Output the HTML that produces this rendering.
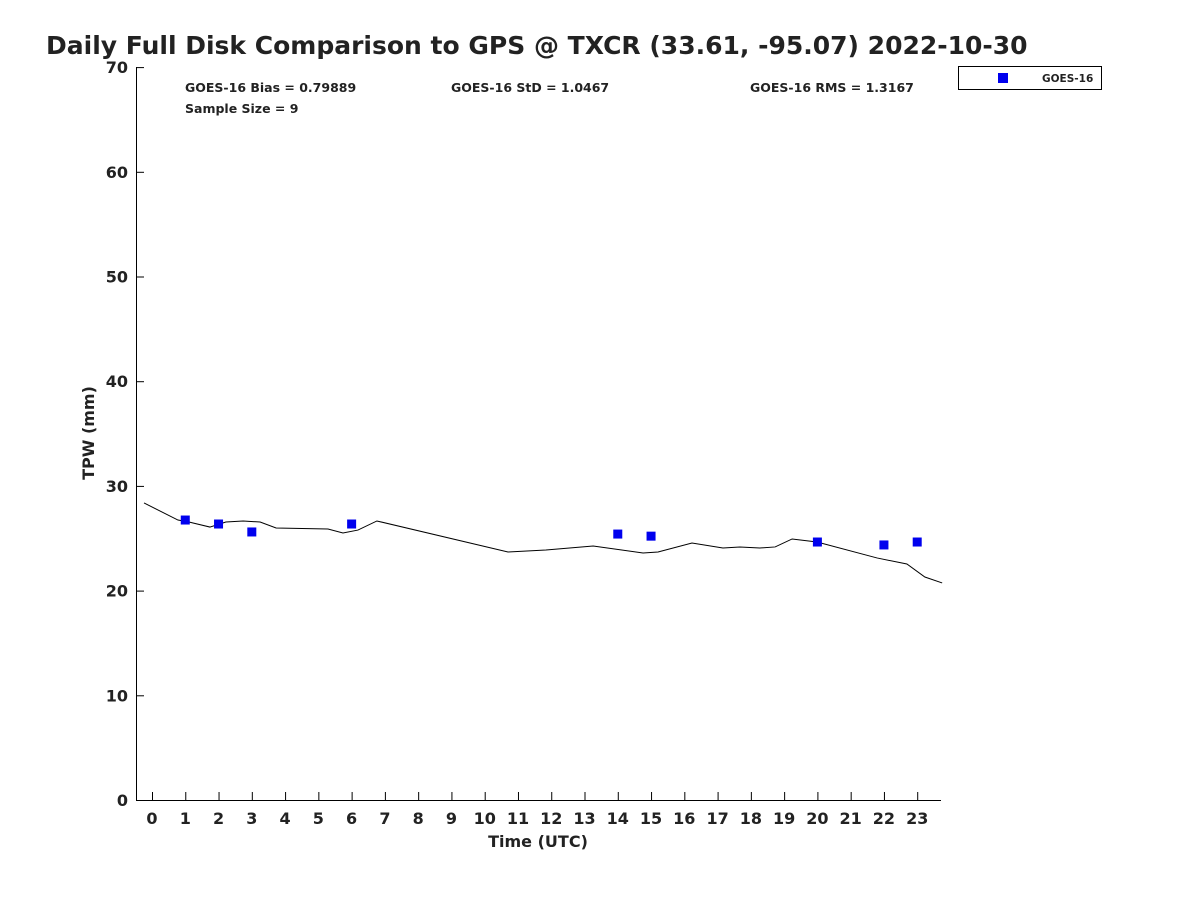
<!DOCTYPE html>
<html><head><meta charset="utf-8"><style>
body{margin:0;background:#fff}
svg text{font-family:"DejaVu Sans","Liberation Sans",sans-serif;font-weight:bold;fill:#222}
</style></head><body>
<svg id="chart" width="1200" height="900">
<text x="46" y="54" font-size="25" fill="#000">Daily Full Disk Comparison to GPS @ TXCR (33.61, -95.07) 2022-10-30</text>
<g id="axes"></g>
<text x="185" y="92" font-size="12.5">GOES-16 Bias = 0.79889</text>
<text x="451" y="92" font-size="12.5">GOES-16 StD = 1.0467</text>
<text x="750" y="92" font-size="12.5">GOES-16 RMS = 1.3167</text>
<text x="185" y="113" font-size="12.5">Sample Size = 9</text>
<g>
<rect x="958.5" y="66.5" width="143" height="23" fill="#fff" stroke="#000"/>
<rect x="998" y="73" width="10" height="10" fill="#0000ee"/>
<text x="1042" y="82" font-size="10.5">GOES-16</text>
</g>
<text transform="translate(94,433) rotate(-90)" text-anchor="middle" font-size="16">TPW (mm)</text>
<text x="538" y="847" text-anchor="middle" font-size="16">Time (UTC)</text>
</svg>
<script>
const gpsHours=[-0.24,0.78,1.11,1.74,2.22,2.74,3.25,3.73,5.29,5.74,6.19,6.76,10.70,11.84,13.26,14.76,15.21,16.23,17.16,17.67,18.27,18.73,19.24,19.99,21.79,22.69,23.23,23.75];
const gpsTPW=[28.37,26.74,26.55,26.07,26.55,26.65,26.55,25.98,25.88,25.50,25.78,26.65,23.69,23.88,24.26,23.59,23.69,24.55,24.07,24.17,24.07,24.17,24.93,24.64,23.12,22.54,21.30,20.73];
const goesHours=[1,2,3,6,14,15,20,22,23];
const goesTPW=[26.74,26.36,25.6,26.36,25.4,25.2,24.64,24.36,24.64];
const xTicks=[0,1,2,3,4,5,6,7,8,9,10,11,12,13,14,15,16,17,18,19,20,21,22,23];
const yTicks=[0,10,20,30,40,50,60,70];
const NS="http://www.w3.org/2000/svg";
const X=h=>152+(h)*33.27, Y=v=>800-v*10.47;
const g=document.getElementById('axes');
function mk(t,a){const e=document.createElementNS(NS,t);for(const k in a)e.setAttribute(k,a[k]);g.appendChild(e);return e;}
let e=mk('path',{d:'M136.5 67 V800.5 H941',fill:'none',stroke:'#000','stroke-width':1});


yTicks.forEach(v=>{
 let t=mk('line',{x1:136,x2:144,y1:Y(v)+0.5,y2:Y(v)+0.5,stroke:'#000'});
 
 
 let l=mk('text',{x:128,y:Y(v)+6,'text-anchor':'end','font-size':16});l.textContent=v;
 
 
});
xTicks.forEach(h=>{
 let t=mk('line',{x1:X(h)+0.5,x2:X(h)+0.5,y1:800,y2:792,stroke:'#000'});
 
 
 let l=mk('text',{x:X(h),y:824,'text-anchor':'middle','font-size':16});l.textContent=h;
 
 
});
let p=mk('polyline',{points:gpsHours.map((h,i)=>X(h)+','+Y(gpsTPW[i])).join(' '),fill:'none',stroke:'#000','stroke-width':1});


goesHours.forEach((h,i)=>{
 let r=mk('rect',{x:X(h)-4.5,y:Y(goesTPW[i])-4.5,width:9,height:9,fill:'#0000ee'});
 
 
});
</script>
</body></html>
